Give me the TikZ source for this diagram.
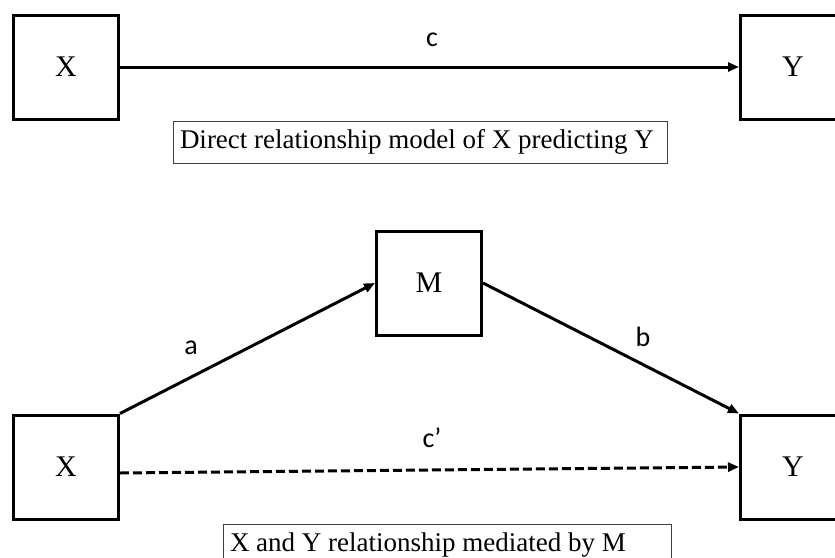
\documentclass[tikz,border=0pt]{standalone}
\usepackage{fontspec}
\setmainfont{Liberation Serif}
\newfontfamily\lblfont{Carlito}
\usetikzlibrary{arrows.meta,positioning}

\begin{document}
\begin{tikzpicture}[
  x=1pt,y=-1pt,
  var/.style={draw,line width=3pt,minimum width=105pt,minimum height=104pt,inner sep=0pt,font=\fontsize{30}{30}\selectfont},
  capbox/.style={draw,line width=1pt,black!75,text=black,minimum height=42pt,inner xsep=7pt,inner ysep=0pt,align=flush left,font=\fontsize{27}{27}\selectfont},
  lbl/.style={font=\lblfont\fontsize{28}{28}\selectfont},
  ar/.style={-{Triangle[length=11pt,width=9pt]},line width=3pt}]
\useasboundingbox (0,0) rectangle (835,557);

% direct model
\node[var] (x1) at (66,67)  {X};
\node[var] (y1) at (793,67) {Y};
\draw[ar] (x1) -- (y1);
\node[lbl] (c) at (432,40) {c};
\node[capbox,text width=480pt] (cap1) at (420,142) {Direct relationship model of X predicting Y};

% mediation model
\node[var] (x2) at (66,467)  {X};
\node[var] (m)  at (429,283) {M};
\node[var] (y2) at (793,467) {Y};
\draw[ar] (x2.north east) -- (m.west);
\draw[ar] (m.east) -- (y2.north west);
\draw[ar,dash pattern=on 9pt off 4pt] ([yshift=-6pt]x2.east) -- (y2.west);
\node[lbl] (a)  at (191,348) {a};
\node[lbl] (b)  at (643,337) {b};
\node[lbl] (cp) at (432,438) {c’};
\node[capbox,text width=434pt] (cap2) at (447,545) {X and Y relationship mediated by M};
\end{tikzpicture}
\end{document}
